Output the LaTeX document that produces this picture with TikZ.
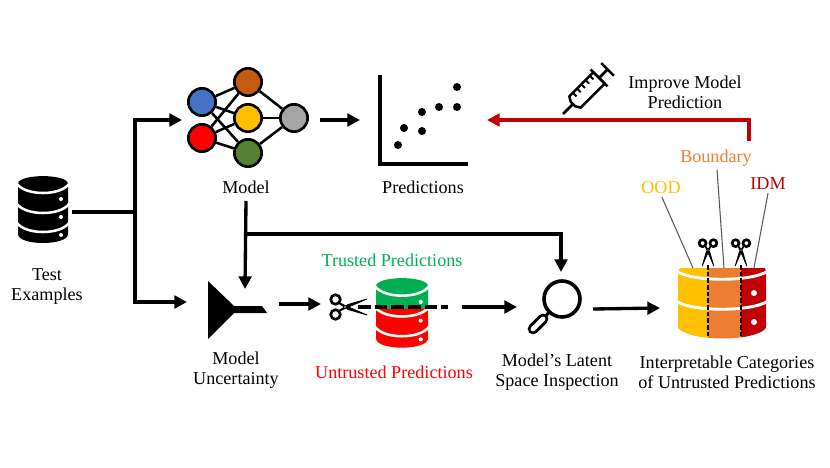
\documentclass[tikz,border=0pt]{standalone}
\usepackage{fontspec}
\setmainfont{Liberation Serif}
\usetikzlibrary{arrows.meta}

\definecolor{darkred}{HTML}{C00000}
\definecolor{amber}{HTML}{FFC000}
\definecolor{tangerine}{HTML}{ED7D31}
\definecolor{leafgreen}{HTML}{00B050}

\tikzset{
  flow/.style={line width=2.5pt,-{Triangle[length=9.5pt,width=9.5pt]}},
  plainflow/.style={line width=2.5pt},
  caption/.style={font=\fontsize{13.6}{15}\selectfont,align=center,inner sep=0pt},
  leader/.style={draw=black!65,line width=0.8pt},
  pics/store/.style 2 args={code={
    \begin{scope}
      \clip (-1,-1) rectangle (51,30);
      \fill[#1] (0,8) .. controls (0,-2.5) and (50,-2.5) .. (50,8) -- (50,58)
        .. controls (50,70) and (0,70) .. (0,58) -- cycle;
    \end{scope}
    \begin{scope}
      \clip (-1,30) rectangle (51,70);
      \fill[#2] (0,8) .. controls (0,-2.5) and (50,-2.5) .. (50,8) -- (50,58)
        .. controls (50,70) and (0,70) .. (0,58) -- cycle;
    \end{scope}
    \foreach \lev in {8,28,47}
      \draw[white,line width=1.9pt] (-1,\lev) .. controls (8,\lev+12) and (42,\lev+12) .. (51,\lev);
    \foreach \lev in {23,41,59}
      \fill[white] (43,\lev) circle (2);
  }},
  pics/shears/.style={code={
    \draw[line width=2pt] (-9.5,-7.5) circle (4.8) (-9.5,7.5) circle (4.8);
    \filldraw[line width=0.6pt,line join=round] (-6,-3.5) -- (-7,-5) -- (0,-1.5) -- (22,8) -- (3,2.5) -- cycle;
    \filldraw[line width=0.6pt,line join=round] (-6,3.5) -- (-7,5) -- (0,1.5) -- (22,-8) -- (3,-2.5) -- cycle;
    \fill[white] (0,0) circle (0.9);
  }}
}

\begin{document}
\begin{tikzpicture}[x=0.75pt,y=-0.75pt]
  \useasboundingbox (0,0) rectangle (830,467);

  % test data
  \path (18,176) pic {store={black}{black}};
  \coordinate (testout) at (72,212);
  \coordinate (fork) at (135,212);
  \coordinate (forktop) at (135,120);
  \coordinate (forkbottom) at (135,302);
  \node[caption] (testlabel) at (47,286.5) {Test\\Examples};

  % network
  \begin{scope}[unit/.style={draw,circle,line width=2pt,minimum size=20.5pt,inner sep=0pt}]
    \node[unit,fill={rgb,255:red,68;green,114;blue,196}] (in0) at (202,102) {};
    \node[unit,fill=red] (in1) at (202,138) {};
    \node[unit,fill={rgb,255:red,197;green,90;blue,17}] (mid0) at (248,82) {};
    \node[unit,fill=amber] (mid1) at (248,118) {};
    \node[unit,fill={rgb,255:red,84;green,130;blue,53}] (mid2) at (248,153) {};
    \node[unit,fill={rgb,255:red,165;green,165;blue,165}] (out) at (294,118) {};
  \end{scope}
  \foreach \i in {0,1}{%
    \foreach \j in {0,1,2}{%
      \draw[line width=1.9pt] (in\i)--(mid\j);
    }
  }
  \foreach \j in {0,1,2}
    \draw[line width=1.9pt] (mid\j)--(out);
  \node[caption] (modellabel) at (246,187) {Model};

  \draw[plainflow] (testout)--(fork);
  \draw[plainflow,line cap=rect] (forktop)--(forkbottom);
  \coordinate (modelin) at (182,120);
  \coordinate (uncertin) at (187,302);
  \draw[flow] (forktop)--(modelin);
  \draw[flow] (forkbottom)--(uncertin);

  % scatter plot
  \coordinate (axisorigin) at (380,164);
  \coordinate (plotin) at (360,120);
  \coordinate (modelout) at (320,120);
  \draw[line width=2.6pt] (380,75)--(axisorigin)--(468,164);
  \foreach \px/\py in {398/145,404/128,422/112,422/131,439/107,457/107,457/87}
    \fill (\px,\py) circle (4);
  \draw[flow] (modelout)--(plotin);
  \node[caption] (predlabel) at (423,187) {Predictions};

  % feedback to the model
  \coordinate (feedstart) at (749,141);
  \coordinate (feedcorner) at (749,120);
  \coordinate (feedend) at (487,120);
  \draw[flow,darkred,line cap=butt] (feedstart)--(feedcorner)--(feedend);
  \begin{scope}[shift={(563,114)},x={(0.53pt,0.53pt)},y={(0.53pt,-0.53pt)},
                line width=1.9pt,line join=round]
    \draw (0,0)--(14,0);
    \draw (14,-3)--(17,-8)--(51,-8)--(51,8)--(17,8)--(14,3)--cycle;
    \draw (51,-12)--(51,12);
    \draw (51,0)--(63,0);
    \draw (63,-9)--(63,9);
    \foreach \t in {22,28,34,40,46}
      \draw[line width=1.5pt] (\t,-8)--(\t,-3);
  \end{scope}
  \node[caption] (improvelabel) at (685,92.5) {Improve Model\\Prediction};

  % uncertainty block
  \fill (208,281)--(234,306)--(262,306)--(267,313)--(234,313)--(208,339)--cycle;
  \node[caption] (uncertlabel) at (236,370.5) {Model\\Uncertainty};
  \coordinate (modeldown) at (246,201);
  \coordinate (uncerttop) at (245,289);
  \coordinate (branch) at (246,234);
  \coordinate (branchright) at (561,234);
  \coordinate (lenstop) at (561,272);
  \draw[flow] (modeldown)--(uncerttop);
  \draw[flow] (branch)--(branchright)--(lenstop);

  % splitting the predictions
  \coordinate (uncertout) at (279,304);
  \coordinate (cutin) at (321,304);
  \draw[flow] (uncertout)--(cutin);
  \path (345,307) pic {shears};
  \path (376,278) pic[scale=1.04] {store={leafgreen}{red}};
  \coordinate (cutstart) at (358,307);
  \coordinate (cutend) at (448,307);
  \draw[line width=2.5pt,dash pattern=on 9.5pt off 3pt] (cutstart)--(cutend);
  \node[caption,text=leafgreen] (trustedlabel) at (392,260) {Trusted Predictions};
  \node[caption,text=red] (untrustedlabel) at (394,372) {Untrusted Predictions};

  % lens
  \coordinate (lensin) at (517,307);
  \coordinate (cutout) at (462,307);
  \draw[flow] (cutout)--(lensin);
  \draw[line width=2.7pt] (562,299) circle (18);
  \draw[line width=2.4pt] (549,312)--(546,316);
  \draw[line width=8pt,line cap=round] (543,319)--(533,329);
  \draw[line width=3.6pt,line cap=round,white] (543,319)--(533,329);
  \node[caption] (lenslabel) at (557,372.5) {Model’s Latent\\Space Inspection};

  % categories
  \coordinate (lensout) at (593,309);
  \coordinate (catin) at (660,308);
  \draw[flow] (lensout)--(catin);
  \begin{scope}
    \clip (680,268)--(765,268)--(766,272)--(766,328)
      .. controls (755,342) and (690,342) .. (678,328)--(678,272)--cycle;
    \fill[amber] (670,260) rectangle (708,345);
    \fill[tangerine] (708,260) rectangle (741,345);
    \fill[darkred] (741,260) rectangle (775,345);
    \foreach \lev in {271,301}
      \draw[white,line width=2.2pt] (676,\lev) .. controls (692,\lev+11) and (752,\lev+11) .. (768,\lev);
  \end{scope}
  \foreach \ypos in {293,322}
    \fill[white] (754,\ypos) circle (3);
  \foreach \xpos in {708,741}{%
    \draw[line width=1.6pt,dash pattern=on 3.5pt off 1.5pt] (\xpos,265)--(\xpos,338);
    \path (\xpos,250) pic[rotate=-90,scale=0.72] {shears};
  }
  \node[caption] (catlabel) at (727,372) {Interpretable Categories\\of Untrusted Predictions};

  \node[caption,text=amber] (oodlabel) at (661,188) {OOD};
  \node[caption,text=tangerine] (boundarylabel) at (716,158) {Boundary};
  \node[caption,text=darkred] (idmlabel) at (768,184) {IDM};
  \coordinate (oodtip) at (693,268);
  \coordinate (boundarytip) at (724,268);
  \coordinate (idmtip) at (754,268);
  \draw[leader] (oodlabel.south)++(1,3)--(oodtip);
  \draw[leader] (boundarylabel.south)++(1,3)--(boundarytip);
  \draw[leader] (idmlabel.south)++(0,3)--(idmtip);
\end{tikzpicture}
\end{document}
